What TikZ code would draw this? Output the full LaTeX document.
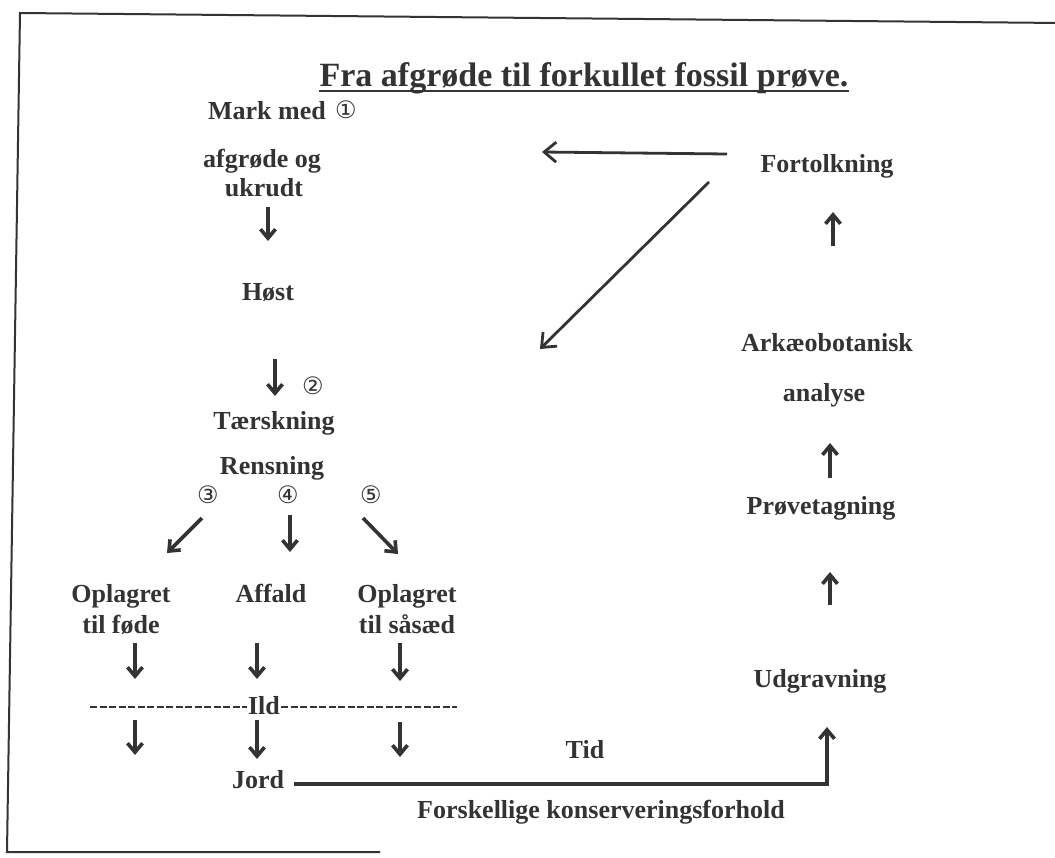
\documentclass[tikz,border=0pt]{standalone}
\usepackage{fontspec}
\setmainfont{Liberation Serif}
\newfontfamily\circfont{DejaVu Sans}
\usetikzlibrary{arrows.meta}
\definecolor{ink}{gray}{0.2}
\tikzset{
  lbl/.style={anchor=base, inner sep=0pt, text=ink, font=\bfseries\fontsize{26}{30}\selectfont},
  ttl/.style={anchor=base, inner sep=0pt, text=ink, font=\bfseries\fontsize{34}{38}\selectfont},
  circ/.style={anchor=center, inner sep=0pt, text=ink, font=\circfont\fontsize{24}{27}\selectfont},
  arr/.style={draw=ink, line width=3.6pt, -{Straight Barb[length=9pt,width=15pt]}},
  longarr/.style={draw=ink, line width=2.8pt, -{Straight Barb[length=12pt,width=20pt]}},
  frameline/.style={draw=ink, line width=2pt},
  dashline/.style={draw=ink, line width=2pt, dash pattern=on 7pt off 2.5pt}
}
\begin{document}
\begin{tikzpicture}[x=1pt,y=-1pt]
\useasboundingbox (0,0) rectangle (1055,857);
% frame
\draw[frameline] (1060,23) -- (20,13) -- (7,852) -- (380,852);

% title
\node[ttl] (title) at (584,86) {Fra afgrøde til forkullet fossil prøve.};
\draw[draw=ink, line width=2.4pt] ([yshift=-5pt]title.base west) -- ([yshift=-5pt]title.base east);

% left column
\node[lbl] (mark) at (267,119) {Mark med};
\node[circ] (n1) at (346,110) {①};
\node[lbl] (afg) at (262,167) {afgrøde og};
\node[lbl] (ukr) at (264,196) {ukrudt};
\node[lbl] (host) at (268,300) {Høst};
\node[circ] (n2) at (313,386) {②};
\node[lbl] (taer) at (274,429) {Tærskning};
\node[lbl] (rens) at (272,474) {Rensning};
\node[circ] (n3) at (208,495) {③};
\node[circ] (n4) at (288,495) {④};
\node[circ] (n5) at (371,495) {⑤};
\node[lbl] (opl1) at (121,602) {Oplagret};
\node[lbl] (fode) at (121,633) {til føde};
\node[lbl] (aff) at (271,602) {Affald};
\node[lbl] (opl2) at (407,602) {Oplagret};
\node[lbl] (saa) at (407,633) {til såsæd};
\node[lbl] (ild) at (264,714) {Ild};
\node[lbl] (jord) at (258,788) {Jord};
\node[lbl] (tid) at (585,758) {Tid};
\node[lbl] (forsk) at (601,818) {Forskellige konserveringsforhold};

% right column
\node[lbl] (fort) at (827,172) {Fortolkning};
\node[lbl] (ark) at (827,351) {Arkæobotanisk};
\node[lbl] (ana) at (824,401) {analyse};
\node[lbl] (prov) at (821,514) {Prøvetagning};
\node[lbl] (udg) at (820,687) {Udgravning};

% arrow end points
\coordinate (a1s) at (268,207); \coordinate (a1e) at (268,241);
\coordinate (a2s) at (275,359); \coordinate (a2e) at (275,396);
\coordinate (a3s) at (202,518); \coordinate (a3e) at (167,553);
\coordinate (a4s) at (290,515); \coordinate (a4e) at (290,552);
\coordinate (a5s) at (363,518); \coordinate (a5e) at (398,554);
\coordinate (b1s) at (135,643); \coordinate (b1e) at (135,679);
\coordinate (b2s) at (257,643); \coordinate (b2e) at (257,679);
\coordinate (b3s) at (400,643); \coordinate (b3e) at (400,681);
\coordinate (d1s) at (135,720); \coordinate (d1e) at (135,755);
\coordinate (d2s) at (257,720); \coordinate (d2e) at (257,759);
\coordinate (d3s) at (400,722); \coordinate (d3e) at (400,757);
\coordinate (u1s) at (833,246); \coordinate (u1e) at (833,212);
\coordinate (u2s) at (830,478); \coordinate (u2e) at (830,443);
\coordinate (u3s) at (830,605); \coordinate (u3e) at (830,572);
\coordinate (hs) at (727,154); \coordinate (he) at (542,152);
\coordinate (gs) at (709,182); \coordinate (ge) at (540,349);
\coordinate (js) at (294,784); \coordinate (je) at (827,727);

% arrows
\draw[arr] (a1s) -- (a1e);
\draw[arr] (a2s) -- (a2e);
\draw[arr] (a3s) -- (a3e);
\draw[arr] (a4s) -- (a4e);
\draw[arr] (a5s) -- (a5e);
\draw[arr] (b1s) -- (b1e);
\draw[arr] (b2s) -- (b2e);
\draw[arr] (b3s) -- (b3e);
\draw[arr] (d1s) -- (d1e);
\draw[arr] (d2s) -- (d2e);
\draw[arr] (d3s) -- (d3e);
\draw[arr] (u1s) -- (u1e);
\draw[arr] (u2s) -- (u2e);
\draw[arr] (u3s) -- (u3e);
\draw[longarr] (hs) -- (he);
\draw[longarr] (gs) -- (ge);
\draw[arr] (js) -| (je);

% dashed fire line
\draw[dashline] (90,707) -- ([xshift=-1pt]ild.west |- 0,707);
\draw[dashline] ([xshift=1pt]ild.east |- 0,707) -- (457,707);
\end{tikzpicture}
\end{document}
